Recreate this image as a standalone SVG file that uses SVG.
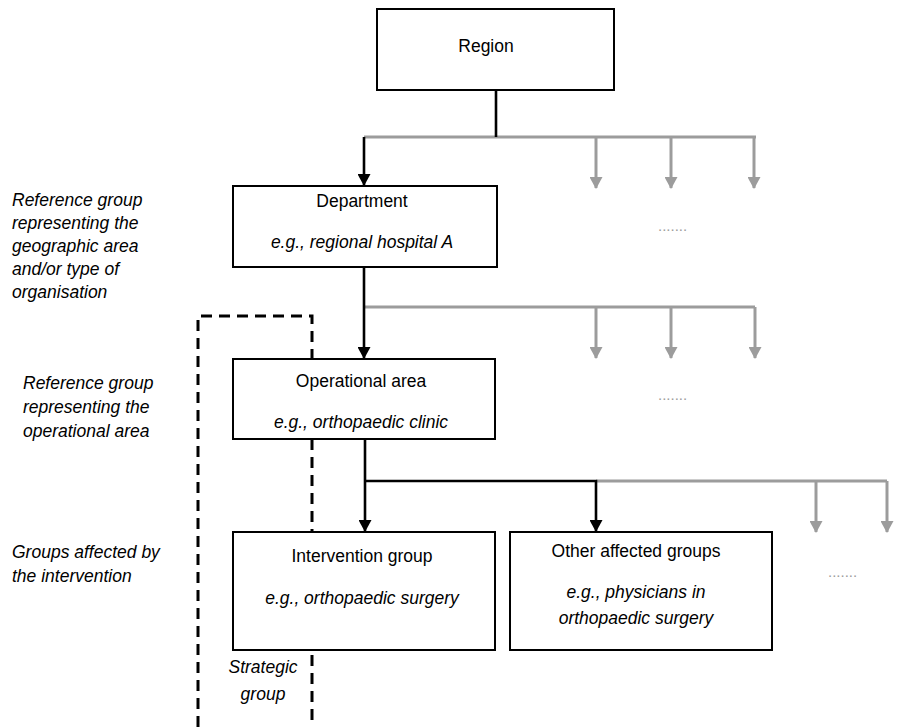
<svg xmlns="http://www.w3.org/2000/svg" width="897" height="727" viewBox="0 0 897 727">
<style>
  .box{fill:#fff;stroke:#000;stroke-width:2}
  .t{font-family:"Liberation Sans",Arial,sans-serif;font-size:17.5px;fill:#000}
  .c{text-anchor:middle}
  .i{font-style:italic}
  .blk{stroke:#000;stroke-width:2.6;fill:none}
  .gry{stroke:#9c9c9c;stroke-width:3;fill:none}
  .dots{font-family:"Liberation Sans",Arial,sans-serif;font-size:15px;fill:#9c9c9c}
</style>
<defs>
  <marker id="ab" viewBox="0 0 12 13" refX="11" refY="6.5" markerWidth="12" markerHeight="13" markerUnits="userSpaceOnUse" orient="auto">
    <path d="M0,0 L12,6.5 L0,13 Z" fill="#000"/>
  </marker>
  <marker id="ag" viewBox="0 0 12 13" refX="11" refY="6.5" markerWidth="12" markerHeight="13" markerUnits="userSpaceOnUse" orient="auto">
    <path d="M0,0 L12,6.5 L0,13 Z" fill="#9c9c9c"/>
  </marker>
</defs>
<rect width="897" height="727" fill="#fff"/>

<g id="strategic-group">
  <path d="M198,727 V316 H312 V727" fill="none" stroke="#000" stroke-width="3" stroke-dasharray="11 7"/>
  <text class="t i c" x="263" y="673">Strategic</text>
  <text class="t i c" x="263" y="700">group</text>
</g>

<g id="connectors">
  <path class="gry" d="M364,137 H756"/>
  <path class="gry" d="M596,137 V188" marker-end="url(#ag)"/>
  <path class="gry" d="M671,137 V188" marker-end="url(#ag)"/>
  <path class="gry" d="M754,137 V188" marker-end="url(#ag)"/>
  <path class="blk" d="M496,90 V137"/>
  <path class="blk" d="M364,137 V185" marker-end="url(#ab)"/>

  <path class="gry" d="M364,307 H755"/>
  <path class="gry" d="M596,307 V358" marker-end="url(#ag)"/>
  <path class="gry" d="M671,307 V358" marker-end="url(#ag)"/>
  <path class="gry" d="M755,307 V358" marker-end="url(#ag)"/>
  <path class="blk" d="M364,267 V358" marker-end="url(#ab)"/>

  <path class="gry" d="M596,481 H887"/>
  <path class="gry" d="M816,481 V532" marker-end="url(#ag)"/>
  <path class="gry" d="M887,481 V532" marker-end="url(#ag)"/>
  <path class="blk" d="M365,439 V531" marker-end="url(#ab)"/>
  <path class="blk" d="M365,481 H596 V531" marker-end="url(#ab)"/>
</g>

<g id="region">
  <rect class="box" x="377" y="9" width="237" height="81"/>
  <text class="t c" x="486" y="52">Region</text>
</g>

<g id="department">
  <rect class="box" x="233" y="186" width="264" height="81"/>
  <text class="t c" x="362" y="207">Department</text>
  <text class="t i c" x="362" y="248">e.g., regional hospital A</text>
</g>

<g id="operational-area">
  <rect class="box" x="233" y="359" width="262" height="80"/>
  <text class="t c" x="361" y="387">Operational area</text>
  <text class="t i c" x="361" y="428">e.g., orthopaedic clinic</text>
</g>

<g id="intervention-group">
  <rect class="box" x="233" y="532" width="262" height="118"/>
  <text class="t c" x="362" y="562">Intervention group</text>
  <text class="t i c" x="362" y="604">e.g., orthopaedic surgery</text>
</g>

<g id="other-affected-groups">
  <rect class="box" x="510" y="532" width="262" height="118"/>
  <text class="t c" x="636" y="557">Other affected groups</text>
  <text class="t i c" x="636" y="598">e.g., physicians in</text>
  <text class="t i c" x="636" y="624">orthopaedic surgery</text>
</g>

<g id="ellipses">
  <text class="dots" x="658" y="231">.......</text>
  <text class="dots" x="658" y="400">.......</text>
  <text class="dots" x="828" y="577">.......</text>
</g>

<g id="labels">
  <text class="t i" x="12" y="206">Reference group</text>
  <text class="t i" x="12" y="229">representing the</text>
  <text class="t i" x="12" y="252">geographic area</text>
  <text class="t i" x="12" y="275">and/or type of</text>
  <text class="t i" x="12" y="298">organisation</text>

  <text class="t i" x="23" y="389">Reference group</text>
  <text class="t i" x="23" y="413">representing the</text>
  <text class="t i" x="23" y="437">operational area</text>

  <text class="t i" x="12" y="558">Groups affected by</text>
  <text class="t i" x="12" y="582">the intervention</text>
</g>
</svg>
